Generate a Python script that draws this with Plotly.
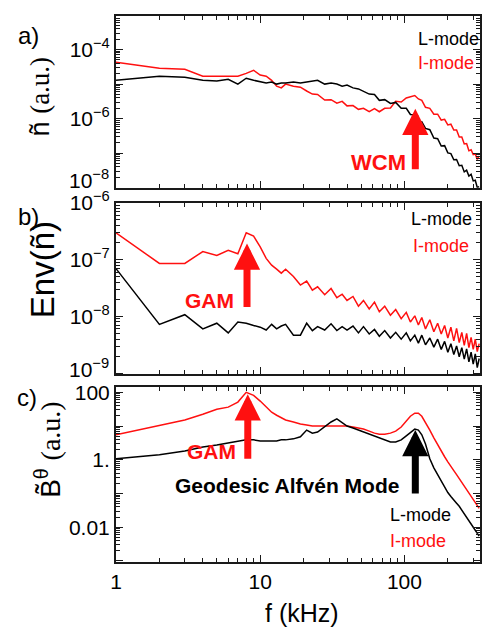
import math
import plotly.graph_objects as go

# ---------------------------------------------------------------- data
# Frequency grid (kHz) shared by all spectra
FREQ_KHZ = [1, 2, 3, 4, 5, 6, 7, 8, 9, 10, 11, 12, 13, 14, 15, 17, 19, 21, 23, 25,
            28, 31, 34, 37, 40, 44, 48, 52, 57, 62, 67, 73, 80, 87, 95, 103, 110, 118, 125, 132,
            140, 150, 160, 170, 180, 190, 200, 210, 220, 230, 240, 250, 260, 270, 280, 290, 300, 310, 320, 330]

# Spectral amplitudes, stored as log10 of the value (a.u.)
# a) density fluctuation spectrum
NE_LMODE_LOG = [-4.89, -4.77, -4.80, -4.89, -4.91, -4.86, -5.00, -4.83, -4.89, -4.94, -4.97, -4.94, -5.00, -4.97, -4.97,
                -4.94, -4.97, -4.94, -4.91, -4.89, -5.00, -4.97, -5.00, -5.06, -5.03, -5.11, -5.14, -5.20, -5.29,
                -5.30, -5.47, -5.45, -5.56, -5.53, -5.70, -5.70, -5.88, -5.89, -6.10, -6.09, -6.28, -6.32, -6.56, -6.58,
                -6.79, -6.78, -6.99, -7.01, -7.19, -7.18, -7.36, -7.35, -7.54, -7.49, -7.66, -7.61, -7.80, -7.78, -7.99, -7.97]
NE_IMODE_LOG = [-4.37, -4.54, -4.57, -4.77, -4.77, -4.77, -4.77, -4.69, -4.60, -4.74, -4.77, -4.89, -5.06, -5.11, -5.00,
                -5.06, -5.09, -5.20, -5.29,
                -5.30, -5.46, -5.45, -5.55, -5.50, -5.63, -5.62, -5.73, -5.70, -5.80, -5.71, -5.80, -5.70, -5.69, -5.50,
                -5.52, -5.40, -5.37, -5.33, -5.43, -5.47, -5.67, -5.70, -5.87, -5.87, -6.04, -6.02, -6.18, -6.16, -6.33,
                -6.33, -6.53, -6.53, -6.73, -6.72, -6.93, -6.90, -7.04, -7.02, -7.18, -7.08]

# b) envelope spectrum of the density fluctuations
ENV_LMODE_LOG = [-7.16, -8.14, -7.97, -8.22, -8.12, -8.29, -8.10, -8.12, -8.16, -8.19, -8.24, -8.14, -8.22, -8.17, -8.14,
                 -8.33, -8.33,
                 -8.12, -8.25, -8.18, -8.24, -8.13, -8.25, -8.18, -8.24, -8.17, -8.29, -8.18, -8.31, -8.23, -8.35, -8.25,
                 -8.38, -8.28, -8.40, -8.29, -8.43, -8.33, -8.47, -8.33, -8.50, -8.38, -8.54, -8.40, -8.58, -8.44, -8.63,
                 -8.48, -8.67, -8.52, -8.71, -8.55, -8.75, -8.57, -8.80, -8.63, -8.84, -8.66, -8.90, -8.74]
ENV_IMODE_LOG = [-6.53, -7.07, -7.07, -6.86, -6.93, -6.84, -6.90, -6.53, -6.59, -6.78, -6.98, -7.10, -7.17, -7.24, -7.17,
                 -7.30, -7.45, -7.38, -7.54, -7.48, -7.62, -7.51, -7.67, -7.61, -7.72, -7.65, -7.82, -7.72, -7.87, -7.75,
                 -7.92, -7.82, -7.98, -7.88, -8.04, -7.93, -8.10, -7.99, -8.15, -8.02, -8.22, -8.06, -8.27, -8.12, -8.31,
                 -8.16, -8.38, -8.19, -8.43, -8.21, -8.46, -8.28, -8.51, -8.30, -8.55, -8.37, -8.58, -8.40, -8.62, -8.48]

# c) magnetic fluctuation spectrum
BDOT_LMODE_LOG = [0.03, 0.15, 0.26, 0.38, 0.44, 0.50, 0.56, 0.59, 0.59, 0.56, 0.56, 0.56, 0.56, 0.59, 0.59,
                  0.62, 0.68, 0.88, 0.79, 0.82, 0.97, 1.12, 1.21, 1.09, 1.00, 0.94, 0.88, 0.82, 0.76,
                  0.71, 0.65, 0.59, 0.53, 0.53, 0.59, 0.71, 0.82, 0.91, 0.88, 0.74, 0.47, 0.03, -0.24, -0.44,
                  -0.65, -0.82, -0.97, -1.09, -1.21, -1.29, -1.38, -1.50, -1.59, -1.71, -1.82, -1.91, -2.03, -2.09,
                  -2.18, -2.26]
BDOT_IMODE_LOG = [0.74, 1.03, 1.18, 1.35, 1.50, 1.56, 1.71, 2.00, 1.91, 1.74, 1.56, 1.41, 1.32, 1.24, 1.18,
                  1.12, 1.06, 1.03, 1.00, 1.00, 1.00, 1.00, 1.00, 1.00, 1.00, 0.97, 0.94, 0.91, 0.85,
                  0.79, 0.76, 0.76, 0.79, 0.85, 0.97, 1.15, 1.29, 1.38, 1.38, 1.29, 1.12, 0.88, 0.65, 0.44,
                  0.26, 0.09, -0.06, -0.21, -0.32, -0.44, -0.56, -0.68, -0.79, -0.88, -1.00, -1.09, -1.18, -1.26,
                  -1.35, -1.44]

# Marked features: (frequency kHz, log10 amplitude at arrow tip)
WCM_MARK = (119, -5.71)
GAM_ENV_MARK = (8.1, -6.72)
GAM_BDOT_MARK = (8.2, 1.94)
GAM_ALFVEN_MARK = (119, 0.88)

X_TICKS = [1, 10, 100]
X_TICKTEXT = ["1", "10", "100"]
YA_TICKS = [1e-8, 1e-7, 1e-6, 1e-5, 1e-4, 1e-3]
YA_TICKTEXT = ["", "", "10<sup>−6</sup>", "", "10<sup>−4</sup>", ""]
YB_TICKS = [1e-9, 1e-8, 1e-7, 1e-6]
YB_TICKTEXT = ["", "10<sup>−8</sup>", "10<sup>−7</sup>", "10<sup>−6</sup>"]
YC_TICKS = [1e-3, 1e-2, 1e-1, 1, 10, 100]
YC_TICKTEXT = ["", "0.01", "", "1.", "", "100"]
# bottom-edge decade labels, nudged up off the panel corner
EDGE_LABELS_A = ["10<sup>−8</sup>"]
EDGE_LABELS_B = ["10<sup>−9</sup>"]

# ---------------------------------------------------------------- layout helpers
W, H = 484, 629
ML, MR, MT, MB = 116, 2, 9, 67
PW, PH = W - ML - MR, H - MT - MB

SANS = "Liberation Sans, Arial, sans-serif"
SERIF = "Liberation Serif, Times New Roman, serif"
RED = "#ff1010"
BLACK = "#000000"
FRAME = "#1a1a1a"


def px(x):
    return (x - ML) / PW


def py(y):
    return (H - MB - y) / PH


def ydom(top, bottom):
    return [py(bottom), py(top)]


def minor_vals(lo, hi):
    vals = []
    for d in range(lo, hi):
        for m in range(2, 10):
            vals.append(m * 10.0 ** d)
    return vals


def unlog(seq):
    return [10.0 ** v for v in seq]


axis_style = dict(
    type="log", showline=True, linecolor=FRAME, linewidth=2, mirror="allticks",
    ticks="inside", ticklen=7, tickwidth=1.2, tickcolor=FRAME,
    showgrid=False, zeroline=False,
    tickfont=dict(family=SANS, size=21, color=BLACK),
)

fig = go.Figure()

panels = [
    ("x", "y", NE_IMODE_LOG, NE_LMODE_LOG),
    ("x2", "y2", ENV_IMODE_LOG, ENV_LMODE_LOG),
    ("x3", "y3", BDOT_IMODE_LOG, BDOT_LMODE_LOG),
]
for xa, ya, imode, lmode in panels:
    fig.add_trace(go.Scatter(x=FREQ_KHZ, y=unlog(imode), mode="lines",
                             line=dict(color=RED, width=1.5), xaxis=xa, yaxis=ya,
                             showlegend=False, hoverinfo="skip"))
    fig.add_trace(go.Scatter(x=FREQ_KHZ, y=unlog(lmode), mode="lines",
                             line=dict(color=BLACK, width=1.5), xaxis=xa, yaxis=ya,
                             showlegend=False, hoverinfo="skip"))

x_range = [0, (482 - ML) / 145]
x_minor = dict(tickmode="array", tickvals=minor_vals(0, 3), ticks="inside",
               ticklen=4, tickwidth=1, tickcolor=FRAME, showgrid=False)


def xaxis(anchor, labels):
    d = dict(axis_style)
    d.update(range=x_range, anchor=anchor, tickmode="array", tickvals=X_TICKS,
             ticktext=X_TICKTEXT, showticklabels=labels, minor=x_minor, domain=[0, 1])
    return d


def yaxis(anchor, dom, rng, vals, text, mlo, mhi):
    d = dict(axis_style)
    d.update(range=rng, anchor=anchor, domain=dom, tickmode="array", tickvals=vals,
             ticktext=text,
             minor=dict(tickmode="array", tickvals=minor_vals(mlo, mhi), ticks="inside",
                        ticklen=4, tickwidth=1, tickcolor=FRAME, showgrid=False))
    return d


annotations = []


def label(x, y, text, size, color=BLACK, bold=False, xanchor="center", angle=0, family=SANS):
    if bold:
        text = "<b>" + text + "</b>"
    annotations.append(dict(xref="paper", yref="paper", x=px(x), y=py(y), text=text,
                            showarrow=False, xanchor=xanchor, yanchor="middle",
                            textangle=angle, font=dict(family=family, size=size, color=color)))


def arrow(xref, yref, mark, tail_dy, color):
    f, lv = mark
    annotations.append(dict(xref=xref, yref=yref, x=math.log10(f), y=lv, text="",
                            showarrow=True, ax=0, ay=tail_dy, arrowhead=2, arrowsize=0.75,
                            arrowwidth=7, arrowcolor=color, standoff=0))


# decade labels at the lower panel corners
label(111, 174, EDGE_LABELS_A[0], 21, xanchor="right")
label(111, 366, EDGE_LABELS_B[0], 21, xanchor="right")

# panel tags
label(28, 29, "a)", 24)
label(28, 212, "b)", 24)
label(27, 395, "c)", 24)

# axis titles
label(40, 90, "ñ <span style='font-family:%s'>(a.u.)</span>" % SERIF, 27, angle=-90)
label(42, 266, "Env(ñ)", 33, angle=-90)
label(48, 448, "B\u0307\u0303<sup>θ</sup> <span style='font-family:%s'>(a.u.)</span>" % SERIF, 28, angle=-90)
label(303, 614, "f (kHz)", 25)

# mode legends
label(418, 32, "L-mode", 18, BLACK, xanchor="left")
label(418, 57, "I-mode", 18, RED, xanchor="left")
label(411, 215, "L-mode", 18, BLACK, xanchor="left")
label(413, 242, "I-mode", 18, RED, xanchor="left")
label(389, 514, "L-mode", 18, BLACK, xanchor="left")
label(389, 541, "I-mode", 18, RED, xanchor="left")

# feature markers
arrow("x", "y", WCM_MARK, 62, RED)
label(380, 157, "WCM", 22, RED, bold=True)
arrow("x2", "y2", GAM_ENV_MARK, 65, RED)
label(210, 297, "GAM", 21, RED, bold=True)
arrow("x3", "y3", GAM_BDOT_MARK, 66, RED)
label(212, 450, "GAM", 21, RED, bold=True)
arrow("x3", "y3", GAM_ALFVEN_MARK, 65, BLACK)
label(288, 485, "Geodesic Alfvén Mode", 21, BLACK, bold=True)

fig.update_layout(
    width=W, height=H,
    margin=dict(l=ML, r=MR, t=MT, b=MB),
    paper_bgcolor="white", plot_bgcolor="white",
    xaxis=xaxis("y", False),
    xaxis2=xaxis("y2", False),
    xaxis3=xaxis("y3", True),
    yaxis=yaxis("x", ydom(9, 183), [-8, -3.03], YA_TICKS, YA_TICKTEXT, -8, -3),
    yaxis2=yaxis("x2", ydom(198, 372), [-9.02, -6], YB_TICKS, YB_TICKTEXT, -9, -6),
    yaxis3=yaxis("x3", ydom(385, 562), [-3.03, 2.15], YC_TICKS, YC_TICKTEXT, -3, 3),
    annotations=annotations,
    showlegend=False,
)

fig.write_html("out.html")
